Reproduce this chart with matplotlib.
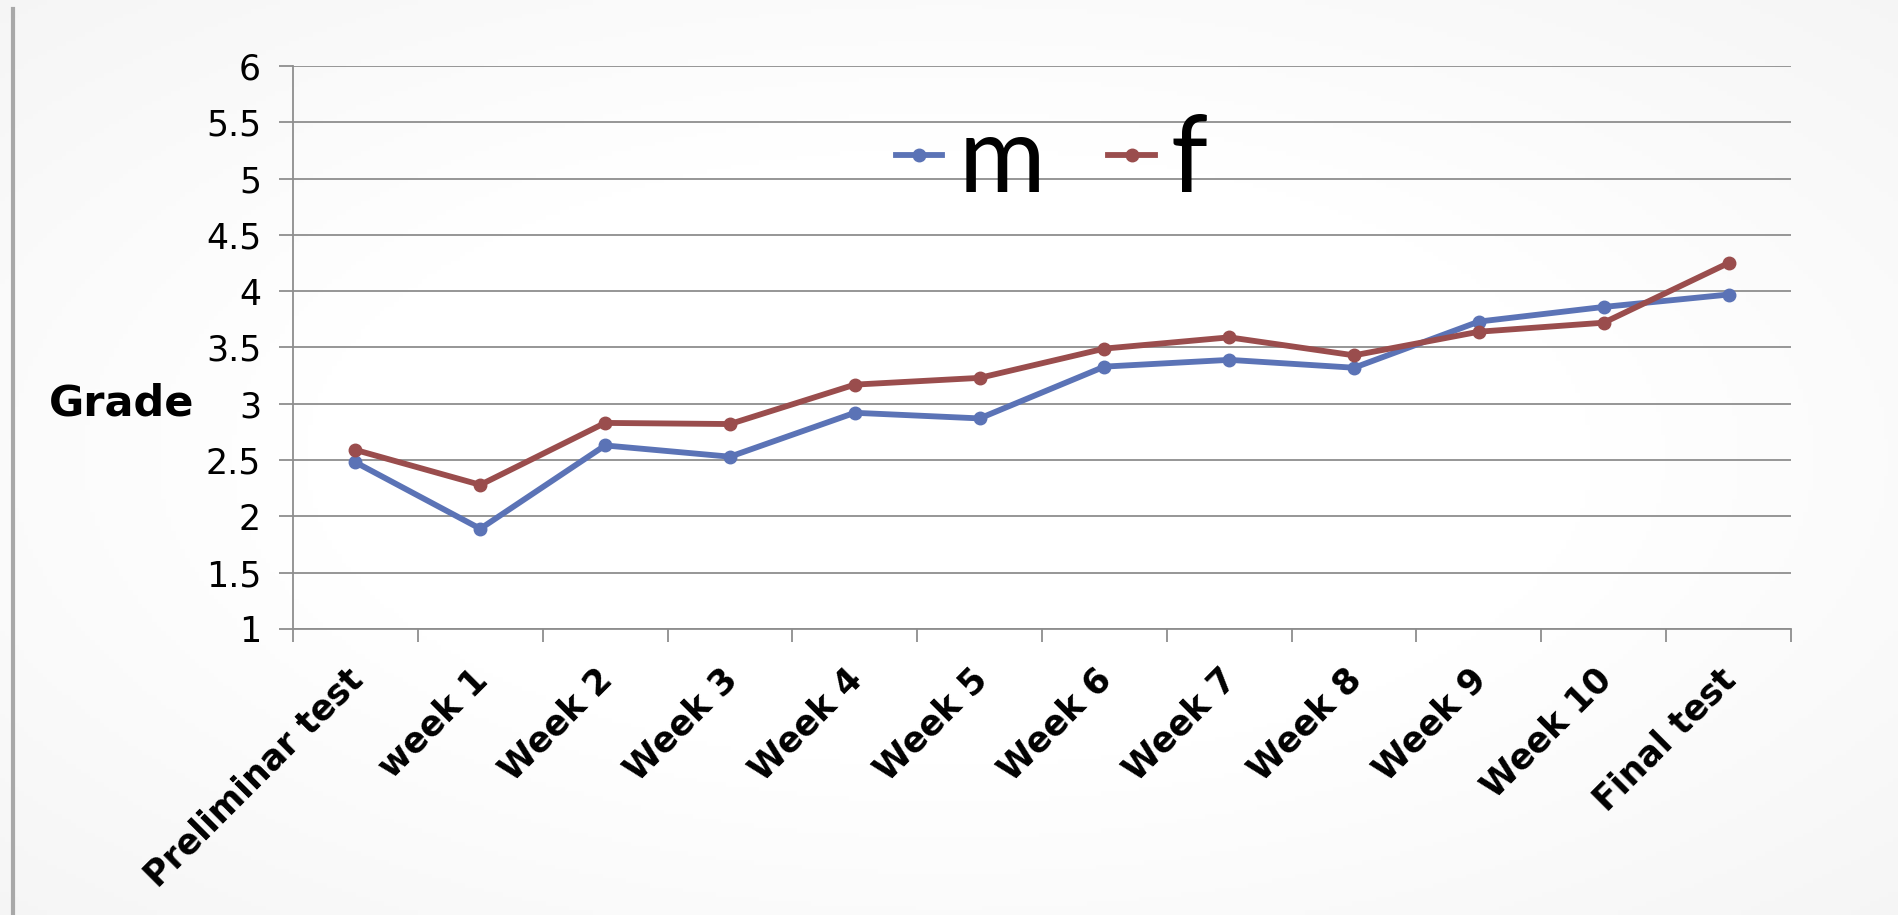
import numpy as np
import matplotlib.pyplot as plt
import matplotlib.transforms as mtransforms
from matplotlib.lines import Line2D

plt.rcParams['font.family'] = ['DejaVu Sans']

# Данные
categories = ['Preliminar test', 'week 1', 'Week 2', 'Week 3', 'Week 4', 'Week 5',
              'Week 6', 'Week 7', 'Week 8', 'Week 9', 'Week 10', 'Final test']
m_values = [2.48, 1.89, 2.63, 2.53, 2.92, 2.87, 3.33, 3.39, 3.32, 3.73, 3.86, 3.97]
f_values = [2.59, 2.28, 2.83, 2.82, 3.17, 3.23, 3.49, 3.59, 3.43, 3.64, 3.72, 4.25]
y_ticks = [1, 1.5, 2, 2.5, 3, 3.5, 4, 4.5, 5, 5.5, 6]

m_color = '#5b73b6'
f_color = '#9a4d4d'
grid_color = '#8e8e8e'

fig = plt.figure(figsize=(18.98, 9.15), dpi=100)

# Фон: светлый градиент (белый центр, серые края)
bg = fig.add_axes([0, 0, 1, 1], zorder=-10)
yy, xx = np.mgrid[-1:1:200j, -1:1:400j]
r = np.sqrt(xx ** 2 + yy ** 2)
bg.imshow(1 - 0.05 * np.clip(r - 0.6, 0, 1), cmap='gray', vmin=0, vmax=1,
          aspect='auto', extent=[0, 1, 0, 1])
bg.axis('off')
fig.add_artist(Line2D([0.0068, 0.0068], [0, 0.99], color='#a8a8a8', lw=3,
                      transform=fig.transFigure))

ax = fig.add_axes([0.1544, 0.3126, 0.7892, 0.6153])
ax.patch.set_alpha(0)

x = np.arange(len(categories))
ax.plot(x, m_values, color=m_color, lw=4.2, marker='o', ms=9, label='m')
ax.plot(x, f_values, color=f_color, lw=4.2, marker='o', ms=9, label='f')

ax.set_xlim(-0.5, len(categories) - 0.5)
ax.set_ylim(1, 6)

# Ось Y и сетка
ax.set_yticks(y_ticks)
ax.set_yticklabels(['%g' % v for v in y_ticks], fontsize=25)
ax.yaxis.grid(True, color=grid_color, lw=1.3)
ax.set_axisbelow(True)
ax.tick_params(axis='y', length=10, width=1.3, color=grid_color, pad=13)

# Ось X: деления между категориями, подписи по центру
ax.set_xticks(np.arange(-0.5, len(categories), 1))
ax.set_xticklabels([])
ax.tick_params(axis='x', which='major', length=9, width=1.3, color=grid_color)
ax.set_xticks(x, minor=True)
ax.set_xticklabels(categories, minor=True, rotation=45, ha='right',
                   fontsize=25, fontweight='bold')
ax.tick_params(axis='x', which='minor', length=0, pad=24)
shift = mtransforms.ScaledTranslation(14 / 100, 0, fig.dpi_scale_trans)
for lbl in ax.get_xticklabels(minor=True):
    lbl.set_transform(lbl.get_transform() + shift)

for s in ['top', 'right']:
    ax.spines[s].set_visible(False)
for s in ['left', 'bottom']:
    ax.spines[s].set_color(grid_color)
    ax.spines[s].set_linewidth(1.3)

ax.set_ylabel('Grade', rotation=0, fontsize=31, fontweight='bold', ha='right', va='center')
ax.yaxis.set_label_coords(-0.066, 0.401)

ax.legend(loc='center', bbox_to_anchor=(0.5065, 0.83), ncol=2, frameon=False,
          prop={'family': 'Lato', 'size': 76},
          handlelength=0.44, handletextpad=0.15, columnspacing=0.6, borderpad=0)

plt.savefig('out.png', dpi=100)
